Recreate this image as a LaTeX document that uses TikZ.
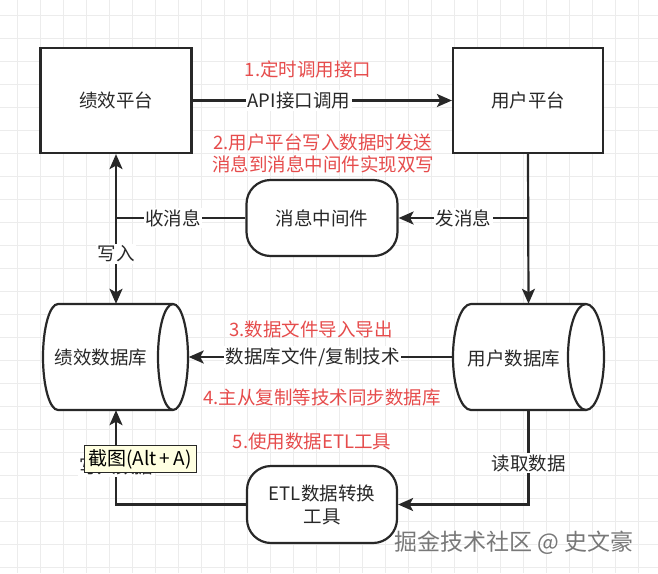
\documentclass[tikz,border=0pt]{standalone}
\usepackage{fontspec}
\setmainfont{Noto Sans CJK SC}
\usetikzlibrary{arrows.meta}
\definecolor{ink}{RGB}{40,40,40}
\definecolor{redtxt}{RGB}{230,76,76}
\definecolor{gridc}{RGB}{236,236,236}
\definecolor{tipbg}{RGB}{255,255,225}
\definecolor{wmark}{RGB}{120,120,120}
\tikzset{
  boxnode/.style={draw=ink, line width=2.2pt, fill=white, minimum width=151pt, minimum height=105pt, inner sep=0pt, text=ink, font=\fontsize{18.5}{22}\selectfont},
  roundnode/.style={draw=ink, line width=2.2pt, fill=white, rounded corners=24pt, minimum width=151pt, minimum height=76pt, inner sep=0pt, text=ink, align=center, font=\fontsize{18.5}{23}\selectfont},
  cylarea/.style={draw=none, minimum width=145pt, minimum height=106pt, inner sep=0pt},
  cyltext/.style={text=ink, font=\fontsize{18.5}{22}\selectfont},
  cylline/.style={draw=ink, line width=2.2pt, fill=white},
  arr/.style={draw=ink, line width=2.2pt, -{Stealth[length=15pt,width=13pt,inset=3.5pt]}},
  lbl/.style={fill=white, text=ink, inner sep=1.5pt, font=\fontsize{18.5}{22}\selectfont},
  note/.style={text=redtxt, align=center, font=\fontsize{18.5}{22}\selectfont},
  tip/.style={draw=ink, line width=0.6pt, fill=tipbg, minimum width=112pt, minimum height=27pt, inner sep=0pt, text=black, font=\fontsize{19}{22}\selectfont},
}
\begin{document}
\begin{tikzpicture}[x=1pt, y=-1pt]
\useasboundingbox (0,0) rectangle (658,573);
\fill[white] (0,0) rectangle (658,573);
% grid
\foreach \gx in {17,40,...,658} \draw[gridc, line width=0.8pt] (\gx,0) -- (\gx,573);
\foreach \gy in {15,38,...,573} \draw[gridc, line width=0.8pt] (0,\gy) -- (658,\gy);

% nodes
\node[boxnode] (jx) at (116,100.5) {绩效平台};
\node[boxnode, minimum width=150pt] (yh) at (528,100.5) {用户平台};
\node[roundnode] (mq) at (322,218) {消息中间件};
\node[roundnode, minimum width=150pt, minimum height=77pt] (etl) at (322,504.5) {ETL数据转换\\工具};
\node[cylarea] (jd) at (116,357) {};
\node[cylarea, minimum width=151pt] (yd) at (528.5,357) {};

% cylinder outlines
\path[cylline] (58,304) -- (173,304) arc[start angle=90, end angle=-90, x radius=15pt, y radius=53pt]
  -- (58,410) arc[start angle=270, end angle=90, x radius=15pt, y radius=53pt] -- cycle;
\draw[cylline, fill=none] (173,304) arc[start angle=90, end angle=270, x radius=15pt, y radius=53pt];
\path[cylline] (471,304) -- (586,304) arc[start angle=90, end angle=-90, x radius=18pt, y radius=53pt]
  -- (471,410) arc[start angle=270, end angle=90, x radius=18pt, y radius=53pt] -- cycle;
\draw[cylline, fill=none] (586,304) arc[start angle=90, end angle=270, x radius=18pt, y radius=53pt];
\node[cyltext] (jdt) at (101,358) {绩效数据库};
\node[cyltext] (ydt) at (514,358) {用户数据库};

% connectors
\draw[arr] (jx.east) -- node[lbl, pos=0.41] {API接口调用} (yh.west);
\draw[arr] (yh.south) -- (yd.north);
\coordinate (r1) at (yh.south |- mq.east);
\coordinate (l1) at (jx.south |- mq.west);
\draw[arr] (r1) -- node[lbl, pos=0.5] {发消息} (mq.east);
\draw[arr] (mq.west) -- node[lbl, pos=0.56] {收消息} (l1) -- (jx.south);
\draw[arr] (l1) -- node[lbl, pos=0.42] {写入} (jd.north);
\draw[arr] (yd.west) -- node[lbl, pos=0.53] {数据库文件/复制技术} (jd.east);
\draw[arr] (yd.south) |- node[lbl, pos=0.28] {读取数据} (etl.east);
\draw[arr] (etl.west) -| node[lbl, pos=0.7] {写入数据} (jd.south);

% notes
\node[note] (n1) at (308,69) {1.定时调用接口};
\node[note] (n2) at (323,153) {2.用户平台写入数据时发送\\消息到消息中间件实现双写};
\node[note] (n3) at (311,329) {3.数据文件导入导出};
\node[note] (n4) at (322,397) {4.主从复制等技术同步数据库};
\node[note] (n5) at (312,441) {5.使用数据ETL工具};

% tooltip (screen overlay in the reference)
\node[tip] (tp) at (140,459) {截图(Alt\,+\,A)};

% watermark
\node[text=white, font=\fontsize{23}{26}\selectfont] (wm0) at (513,542) {掘金技术社区 @ 史文豪};
\node[text=wmark, font=\fontsize{23}{26}\selectfont] (wm) at (514,543) {掘金技术社区 @ 史文豪};
\end{tikzpicture}
\end{document}
